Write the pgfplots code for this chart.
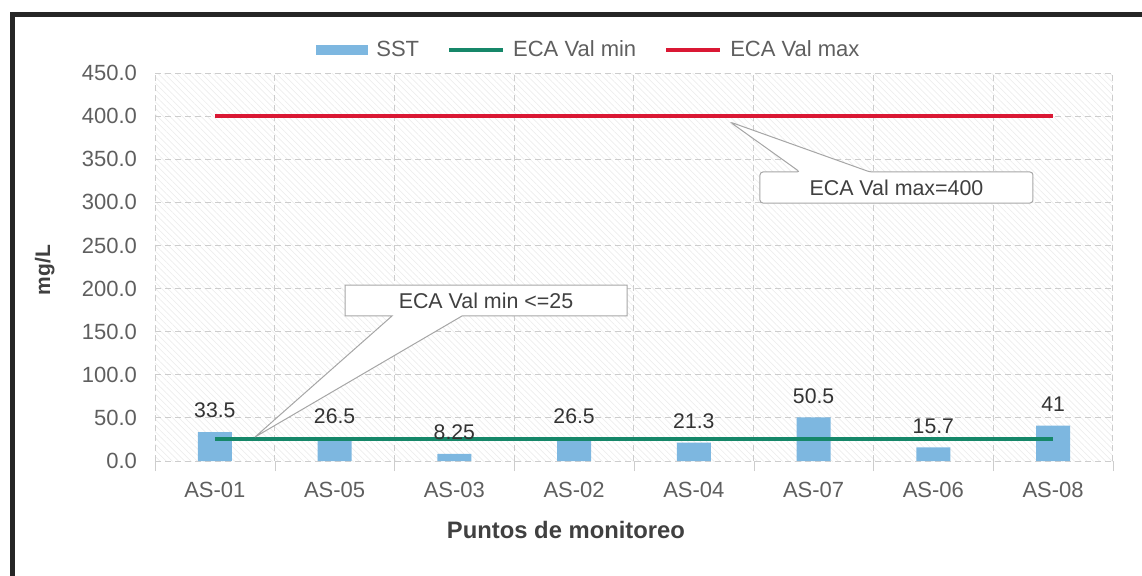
\documentclass[border=0pt]{standalone}
\usepackage{pgfplots}
\pgfplotsset{compat=1.18}
\usepackage{fontspec}
\setmainfont{Liberation Sans}
\usetikzlibrary{patterns.meta}

\definecolor{barblue}{RGB}{125,183,224}
\definecolor{ecamin}{RGB}{22,135,105}
\definecolor{ecamax}{RGB}{218,24,52}
\definecolor{txtgray}{RGB}{95,95,95}
\definecolor{gridgray}{RGB}{205,205,205}

\begin{document}
\begin{tikzpicture}
% page = 1142 x 575 px at 0.5pt per px
\path[use as bounding box] (0,0) rectangle (571pt,287.5pt);
\draw[line width=2.5pt, black!85] (6.2pt,-2pt) -- (6.2pt,280.5pt) -- (575pt,280.5pt);

\begin{axis}[
    at={(77.5pt,57pt)}, anchor=south west,
    scale only axis,
    width=479pt, height=194pt,
    xmin=-0.5, xmax=7.5,
    ymin=0, ymax=450,
    xtick={0,...,7},
    xticklabels={AS-01,AS-05,AS-03,AS-02,AS-04,AS-07,AS-06,AS-08},
    minor xtick={-0.5,0.5,...,7.5},
    ytick={0,50,...,450},
    yticklabel style={/pgf/number format/fixed, /pgf/number format/fixed zerofill, /pgf/number format/precision=1, xshift=-5.5pt},
    /pgf/number format/assume math mode=true,
    ticklabel style={font=\fontsize{11}{13}\selectfont, text=txtgray},
    xticklabel style={yshift=-7pt},
    major tick length=0pt,
    minor tick length=5pt,
    tick align=outside,
    minor x tick style={gridgray},
    tick pos=left,
    ymajorgrids=true,
    xminorgrids=true,
    grid style={densely dashed, gridgray, line width=0.5pt},
    minor grid style={densely dashed, gridgray, line width=0.5pt},
    axis line style={draw=none},
    axis background/.style={pattern={Lines[angle=-45, distance=2.2pt, line width=0.35pt]}, pattern color=black!7},
    xlabel={\textbf{Puntos de monitoreo}},
    xlabel style={at={(axis description cs:0.429,-0.178)}, anchor=center, font=\fontsize{11.9}{14}\selectfont, text=black!75},
    ylabel={\textbf{mg/L}},
    ylabel style={at={(axis description cs:-0.115,0.492)}, anchor=center, rotate=0, font=\fontsize{10.5}{12}\selectfont, text=black!75},
    legend style={at={(axis description cs:0.454,1)}, anchor=south, yshift=2.5pt,
        draw=none, fill=none, font=\fontsize{11}{13}\selectfont, text=txtgray,
        legend columns=3,
        /tikz/every odd column/.append style={column sep=2pt},
        /tikz/every even column/.append style={column sep=12pt}},
    clip=false,
]

\addplot[ybar, bar width=17pt, fill=barblue, draw=none,
    nodes near coords,
    every node near coord/.append style={font=\fontsize{10.6}{12}\selectfont, text=black!80, yshift=3.5pt},
    legend image code/.code={\fill[barblue] (0pt,-2.6pt) rectangle (26pt,2.6pt);}]
coordinates {(0,33.5) (1,26.5) (2,8.25) (3,26.5) (4,21.3) (5,50.5) (6,15.7) (7,41)};
\addlegendentry{SST}

\addplot[ecamin, line width=2pt, mark=none,
    legend image code/.code={\draw[ecamin, line width=2pt] (0pt,0pt) -- (27pt,0pt);}]
coordinates {(0,25) (7,25)};
\addlegendentry{ECA Val min}

\addplot[ecamax, line width=2pt, mark=none,
    legend image code/.code={\draw[ecamax, line width=2pt] (0pt,0pt) -- (27pt,0pt);}]
coordinates {(0,400) (7,400)};
\addlegendentry{ECA Val max}

% callouts
\draw[fill=white, draw=black!35, line width=0.5pt]
    (axis cs:1.087,204.1) -- (axis cs:3.442,204.1) -- (axis cs:3.442,168.2)
    -- (axis cs:2.064,168.2) -- (axis cs:0.335,27.8) -- (axis cs:1.479,168.2)
    -- (axis cs:1.087,168.2) -- cycle;
\node[font=\fontsize{10.7}{12}\selectfont, text=black!75] at (axis cs:2.264,186.2) {ECA Val min <=25};

\draw[fill=white, draw=black!35, line width=0.5pt, rounded corners=1.5pt]
    (axis cs:4.552,299.2) -- (axis cs:4.552,335.2) -- (axis cs:4.886,335.2)
    -- (axis cs:4.302,393.2) -- (axis cs:5.471,335.2) -- (axis cs:6.832,335.2)
    -- (axis cs:6.832,299.2) -- cycle;
\node[font=\fontsize{10.7}{12}\selectfont, text=black!75] at (axis cs:5.692,317.2) {ECA Val max=400};

\end{axis}
\end{tikzpicture}
\end{document}
